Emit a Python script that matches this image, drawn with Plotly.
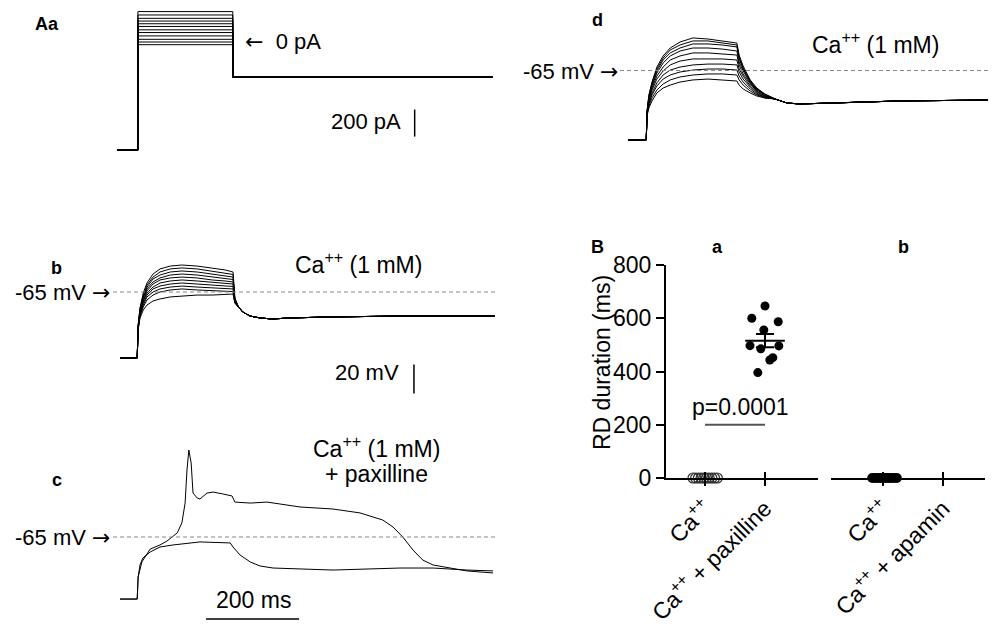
import numpy as np
import plotly.graph_objects as go

W, H = 1000, 630
FONT = "Liberation Sans, Arial, sans-serif"

# ---- Aa: current steps (pA) ----
aa_t = [0, 45, 45, 249, 249, 808]
aa_hold_pa = -800
aa_after_pa = -260
aa_step_pa = [225, 200, 175, 155, 135, 115, 90, 70, 45, 20, 0, -20]

# ---- b: Ca++ (1 mM), membrane potential (mV) ----
b_t_pre = [0, 37]
b_v_rest = -110.5
b_t_step = [39, 43, 50, 58, 71, 86, 108, 133, 166, 198, 226, 243, 247, 254]
b_v_step = [
    [-87.8, -76.0, -65.7, -58.8, -52.6, -49.1, -47.1, -46.4, -47.1, -48.4, -49.8, -51.2, -69.1, -74.7],
    [-88.4, -76.7, -67.1, -60.2, -54.7, -51.2, -49.1, -48.4, -49.1, -50.5, -51.9, -52.9, -69.8, -74.7],
    [-88.4, -77.4, -68.4, -61.6, -56.0, -53.3, -51.2, -50.5, -51.2, -52.6, -54.0, -54.7, -70.5, -74.7],
    [-89.1, -78.1, -69.1, -62.9, -58.1, -55.3, -53.3, -52.6, -53.3, -54.7, -55.7, -56.4, -70.5, -74.7],
    [-89.1, -78.8, -70.5, -64.3, -59.5, -56.7, -55.3, -54.7, -55.3, -56.7, -57.4, -58.1, -71.2, -75.3],
    [-89.8, -79.5, -71.2, -65.7, -61.6, -58.8, -57.4, -56.7, -57.4, -58.1, -58.8, -59.5, -71.2, -75.3],
    [-89.8, -80.2, -72.6, -67.1, -62.9, -60.9, -59.5, -58.8, -59.5, -60.2, -60.9, -61.2, -71.9, -75.3],
    [-90.5, -80.9, -74.0, -68.4, -65.0, -62.9, -61.6, -60.9, -61.6, -62.2, -62.6, -62.9, -71.9, -75.3],
    [-90.5, -81.6, -75.3, -70.5, -67.1, -65.0, -63.6, -62.9, -63.6, -64.0, -64.3, -64.7, -72.6, -75.3],
    [-91.2, -82.9, -77.4, -74.0, -71.2, -69.8, -68.4, -67.8, -67.1, -67.1, -66.4, -66.4, -72.6, -75.3],
]
b_t_tail = [264, 280, 301, 327, 366, 452, 602, 806]
b_v_tail = [-78.8, -81.6, -82.9, -83.6, -82.9, -82.2, -81.6, -81.6]

# ---- c: Ca++ (1 mM) + paxilline ----
c_lo_t = [0, 37, 39, 43, 49, 65, 86, 114, 172, 237, 243, 258, 280, 301, 329, 387, 458, 602, 673, 746, 802]
c_lo_v = [-107.8, -107.8, -92.6, -84.3, -79.5, -75.3, -71.9, -70.5, -68.4, -69.1, -71.9, -77.4,
          -82.2, -85.0, -86.4, -87.1, -87.8, -86.4, -86.4, -87.8, -88.4]
c_hi_t = [0, 37, 39, 47, 65, 86, 101, 123, 133, 140, 144, 148, 153, 157, 166, 172, 187, 200, 221,
          241, 247, 280, 316, 387, 458, 516, 565, 587, 608, 630, 651, 673, 710, 746, 802]
c_hi_v = [-107.8, -107.8, -92.6, -82.2, -73.3, -70.5, -67.8, -62.2, -55.3, -41.6, -18.8, -5.0,
          -14.0, -34.7, -38.1, -38.8, -34.7, -34.0, -35.3, -36.7, -40.9, -41.6, -40.9, -44.3,
          -45.7, -48.4, -53.3, -58.1, -65.0, -74.0, -80.9, -84.3, -86.4, -88.4, -89.8]

# ---- d: Ca++ (1 mM) ----
d_t_pre = [0, 41]
d_v_rest = -111.3
d_t_step = [43, 47, 54, 65, 79, 95, 117, 146, 180, 212, 245, 250, 259, 275, 290, 308]
d_v_step = [
    [-91.7, -81.3, -72.7, -62.7, -55.3, -50.0, -46.0, -43.3, -44.0, -45.3, -46.7, -54.7, -62.0, -71.3, -76.7, -80.7],
    [-91.7, -82.0, -73.3, -64.0, -56.7, -51.3, -48.0, -45.3, -45.3, -46.7, -48.0, -56.0, -63.3, -72.0, -77.3, -80.7],
    [-92.3, -82.7, -74.7, -65.3, -58.0, -53.3, -50.0, -47.3, -47.3, -48.0, -49.3, -57.3, -64.0, -72.7, -77.3, -81.3],
    [-92.3, -83.3, -75.3, -66.7, -60.0, -55.3, -52.0, -50.0, -50.0, -50.7, -52.0, -59.3, -65.3, -73.3, -78.0, -81.3],
    [-93.0, -84.7, -76.7, -68.7, -62.7, -58.0, -55.3, -53.3, -53.3, -54.0, -54.7, -61.3, -67.3, -74.0, -78.7, -82.0],
    [-93.0, -85.3, -78.0, -70.7, -65.3, -61.3, -58.7, -57.3, -57.3, -57.3, -58.0, -64.0, -68.7, -75.3, -79.3, -82.0],
    [-93.7, -86.7, -80.0, -73.3, -68.0, -64.7, -62.7, -61.3, -60.7, -60.7, -61.3, -66.0, -70.7, -76.0, -80.0, -82.7],
    [-93.7, -87.3, -81.3, -75.3, -70.7, -68.0, -66.0, -64.7, -64.0, -64.0, -64.7, -68.7, -72.7, -77.3, -80.7, -82.7],
    [-94.3, -88.7, -83.3, -78.0, -74.0, -71.3, -69.3, -68.0, -67.3, -67.3, -68.0, -71.3, -74.7, -78.7, -81.3, -83.3],
    [-95.0, -90.0, -85.3, -80.0, -76.7, -74.7, -72.7, -71.3, -70.7, -71.3, -72.0, -74.7, -77.3, -80.0, -82.0, -83.3],
]
d_t_tail = [331, 358, 387, 461, 612, 810]
d_v_tail = [-84.0, -86.7, -87.3, -86.7, -85.3, -84.7]

# ---- B: RD duration (ms) ----
ba_ticktext = ["Ca<sup>++</sup>", "Ca<sup>++</sup> + paxilline"]
bb_ticktext = ["Ca<sup>++</sup>", "Ca<sup>++</sup> + apamin"]
ca_a_vals = [0, 0, 0, 0, 0, 0, 0, 0, 0, 0]
ca_a_jit = [-0.2, -0.155, -0.11, -0.065, -0.02, 0.025, 0.07, 0.115, 0.16, 0.205]
pax_vals = [646, 600, 587, 556, 497, 485, 496, 452, 443, 396]
pax_jit = [0, -0.22, 0.22, -0.02, -0.25, -0.07, 0.23, 0.13, 0.08, -0.12]
ca_b_vals = [0, 0, 0, 0, 0, 0, 0, 0, 0, 0]
ca_b_jit = [-0.18, -0.135, -0.09, -0.045, 0, 0.045, 0.09, 0.135, 0.18, 0.23]
sig_y = 200


def fx(x):
    return x / W


def fy(y):
    return 1 - y / H


fig = go.Figure()
line_k = dict(color="black", width=1)

for lvl in aa_step_pa:
    fig.add_trace(go.Scatter(x=aa_t, y=[aa_hold_pa, aa_hold_pa, lvl, lvl, aa_after_pa, aa_after_pa],
                             xaxis="x", yaxis="y", mode="lines", line=line_k))

for v in b_v_step:
    fig.add_trace(go.Scatter(x=b_t_pre + b_t_step + b_t_tail, y=[b_v_rest] * 2 + v + b_v_tail,
                             xaxis="x2", yaxis="y2", mode="lines", line=line_k))

fig.add_trace(go.Scatter(x=c_lo_t, y=c_lo_v, xaxis="x3", yaxis="y3", mode="lines", line=line_k))
fig.add_trace(go.Scatter(x=c_hi_t, y=c_hi_v, xaxis="x3", yaxis="y3", mode="lines", line=line_k))

for v in d_v_step:
    fig.add_trace(go.Scatter(x=d_t_pre + d_t_step + d_t_tail, y=[d_v_rest] * 2 + v + d_v_tail,
                             xaxis="x4", yaxis="y4", mode="lines", line=line_k))

# scatter panel B
fig.add_trace(go.Scatter(x=[0 + j for j in ca_a_jit], y=ca_a_vals, xaxis="x5", yaxis="y5", mode="markers",
                         marker=dict(symbol="circle-open", size=10, color="#333", line=dict(width=1.2)),
                         cliponaxis=False))
fig.add_trace(go.Scatter(x=[1 + j for j in pax_jit], y=pax_vals, xaxis="x5", yaxis="y5", mode="markers",
                         marker=dict(size=9, color="black"), cliponaxis=False))
pax_mean = np.mean(pax_vals)
pax_sem = np.std(pax_vals, ddof=1) / np.sqrt(len(pax_vals))
fig.add_trace(go.Scatter(x=[0.67, 1.33], y=[pax_mean, pax_mean], xaxis="x5", yaxis="y5", mode="lines",
                         line=dict(color="black", width=2)))
fig.add_trace(go.Scatter(x=[1], y=[pax_mean], xaxis="x5", yaxis="y5", mode="markers", marker=dict(size=1, opacity=0),
                         error_y=dict(type="data", array=[pax_sem], width=9, thickness=2, color="black")))
fig.add_trace(go.Scatter(x=[0, 1], y=[sig_y, sig_y], xaxis="x5", yaxis="y5", mode="lines",
                         line=dict(color="#555", width=2)))
fig.add_trace(go.Scatter(x=[0 + j for j in ca_b_jit], y=ca_b_vals, xaxis="x6", yaxis="y6", mode="markers",
                         marker=dict(size=10, color="black"), cliponaxis=False))
# dummy traces so the overlay tick axes get drawn
fig.add_trace(go.Scatter(x=[0], y=[0], xaxis="x7", yaxis="y5", mode="markers", marker=dict(opacity=0)))
fig.add_trace(go.Scatter(x=[0], y=[0], xaxis="x8", yaxis="y6", mode="markers", marker=dict(opacity=0)))


def hidden(domain, rng, anchor):
    return dict(domain=domain, range=rng, visible=False, anchor=anchor, automargin=False)


# trace panels: pixel box -> data range
aa_x = [(100 - 117) * 2.15, (500 - 117) * 2.15]
aa_y = [(42 - 160) * 7.4, (42 - 0) * 7.4]
b_x = [(100 - 120) * 2.15, (500 - 120) * 2.15]
b_y = [-65 - (400 - 292) / 1.45, -65 + (292 - 240) / 1.45]
c_y = [-65 - (630 - 537) / 1.45, -65 + (537 - 430) / 1.45]
d_x = [(600 - 628) * 2.25, (1000 - 628) * 2.25]
d_y = [-65 - (160 - 70.5) / 1.5, -65 + 70.5 / 1.5]

cat_axis = dict(showline=True, linewidth=2, linecolor="black", ticks="outside", ticklen=6, tickwidth=2,
                tickcolor="black", tickvals=[0, 1], tickangle=-45, showgrid=False, zeroline=False,
                tickfont=dict(size=23), automargin=False)
in_ticks = dict(showline=False, ticks="inside", ticklen=6, tickwidth=2, tickcolor="black",
                tickvals=[0, 1], showticklabels=False, showgrid=False, zeroline=False, automargin=False)
b_ydom = [fy(478), fy(265)]

fig.update_layout(
    template="none",
    width=W, height=H, margin=dict(l=0, r=0, t=0, b=0, pad=0),
    paper_bgcolor="white", plot_bgcolor="white", showlegend=False,
    font=dict(family=FONT, size=23, color="black"),
    xaxis=hidden([0.10, 0.50], aa_x, "y"), yaxis=hidden([fy(160), fy(0)], aa_y, "x"),
    xaxis2=hidden([0.10, 0.50], b_x, "y2"), yaxis2=hidden([fy(400), fy(240)], b_y, "x2"),
    xaxis3=hidden([0.10, 0.50], b_x, "y3"), yaxis3=hidden([fy(630), fy(430)], c_y, "x3"),
    xaxis4=hidden([0.60, 1.00], d_x, "y4"), yaxis4=hidden([fy(160), fy(0)], d_y, "x4"),
    xaxis5=dict(domain=[fx(666), fx(818)], range=[-0.65, 1.883], anchor="y5", ticktext=ba_ticktext, **cat_axis),
    yaxis5=dict(domain=b_ydom, range=[0, 800], anchor="x5", showline=True, linewidth=2, linecolor="black",
                ticks="outside", ticklen=8, tickwidth=2, tickcolor="black", tickvals=[0, 200, 400, 600, 800],
                showgrid=False, zeroline=False, tickfont=dict(size=23), automargin=False),
    xaxis6=dict(domain=[fx(831), fx(985)], range=[-0.867, 1.7], anchor="y6", ticktext=bb_ticktext, **cat_axis),
    yaxis6=dict(domain=b_ydom, range=[0, 800], anchor="x6", visible=False, automargin=False),
    xaxis7=dict(overlaying="x5", anchor="y5", range=[-0.65, 1.883], **in_ticks),
    xaxis8=dict(overlaying="x6", anchor="y6", range=[-0.867, 1.7], **in_ticks),
)

for tr in fig.data:
    tr.showlegend = False
    tr.hoverinfo = "skip"

# -65 mV reference lines
dash = dict(color="#888", width=1.2, dash="4px,3px")
fig.add_shape(type="line", xref="x2", yref="y2", x0=-15, x1=810, y0=-65, y1=-65, line=dash)
fig.add_shape(type="line", xref="x3", yref="y3", x0=-15, x1=810, y0=-65, y1=-65, line=dash)
fig.add_shape(type="line", xref="x4", yref="y4", x0=-18, x1=810, y0=-65, y1=-65, line=dash)

# scale bars
bar = dict(color="black", width=1.5)
fig.add_shape(type="line", xref="x", yref="y", x0=640, x1=640, y0=-700, y1=-500, line=bar)
fig.add_shape(type="line", xref="x2", yref="y2", x0=632, x1=632, y0=-135, y1=-115, line=bar)
fig.add_shape(type="line", xref="x3", yref="y3", x0=185, x1=385, y0=-121.6, y1=-121.6, line=bar)

ARROW_R = "<span style='font-family:DejaVu Sans'>\u2192</span>"
ARROW_L = "<span style='font-family:DejaVu Sans'>\u2190</span>"


def note(text, x, y, xanchor="center", size=22, bold=False, angle=0):
    if bold:
        text = "<b>" + text + "</b>"
    fig.add_annotation(text=text, x=fx(x), y=fy(y), xref="paper", yref="paper", showarrow=False,
                       xanchor=xanchor, yanchor="middle", textangle=angle,
                       font=dict(family=FONT, size=size, color="black"))


note("Aa", 47, 24, size=18, bold=True)
note("b", 56, 268, size=18, bold=True)
note("c", 57, 480, size=18, bold=True)
note("d", 597, 20, size=18, bold=True)
note("B", 597, 247, size=18, bold=True)
note("a", 717, 247, size=18, bold=True)
note("b", 903, 247, size=18, bold=True)

note(ARROW_L + "  0 pA", 243, 42, xanchor="left")
note("200 pA", 403, 122, xanchor="right")
note("20 mV", 401, 372, xanchor="right")
note("-65 mV " + ARROW_R, 112, 292, xanchor="right")
note("-65 mV " + ARROW_R, 112, 537, xanchor="right")
note("-65 mV " + ARROW_R, 620, 71, xanchor="right")
note("Ca<sup>++</sup> (1 mM)", 358, 263, size=23)
note("Ca<sup>++</sup> (1 mM)", 875, 43, size=23)
note("Ca<sup>++</sup> (1 mM)", 376, 447, size=23)
note("+ paxilline", 376, 474, size=23)
note("200 ms", 253, 600, size=23)
note("p=0.0001", 740, 407, size=23)
note("RD duration (ms)", 602, 363, size=23, angle=-90)

fig.write_html("out.html", config={"displayModeBar": False},
               post_script="document.body.style.margin='0';")
